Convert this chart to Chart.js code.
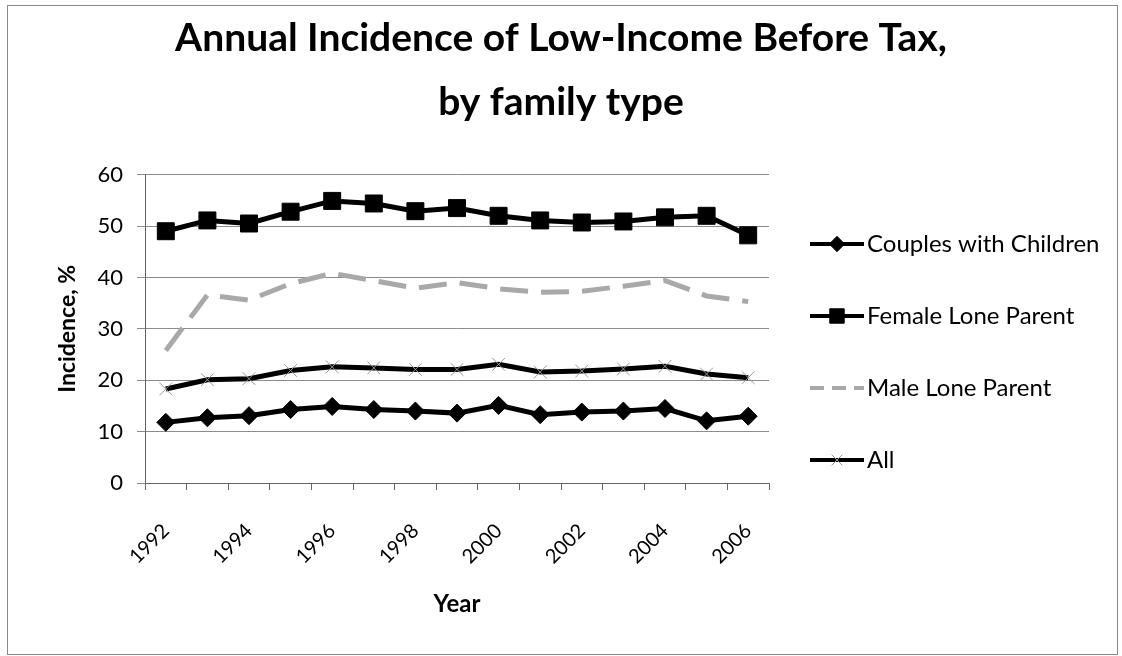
<!DOCTYPE html>
<html>
<head>
<meta charset="utf-8">
<title>Annual Incidence of Low-Income Before Tax</title>
<script src="https://cdn.jsdelivr.net/npm/chart.js@4.4.1/dist/chart.umd.min.js"></script>
<style>
  html, body { margin: 0; padding: 0; background: #fff; }
  #wrap { width: 1122px; height: 656px; }
</style>
</head>
<body>
<div id="wrap"><canvas id="incidenceChart" width="1122" height="656"></canvas></div>
<script>
// Data
let years = ["1992", "1993", "1994", "1995", "1996", "1997", "1998", "1999", "2000", "2001", "2002", "2003", "2004", "2005", "2006"];
let couplesWithChildren = [11.8, 12.7, 13.1, 14.3, 14.9, 14.3, 14.0, 13.6, 15.1, 13.3, 13.8, 14.0, 14.5, 12.1, 13.0];
let femaleLoneParent = [49.0, 51.1, 50.5, 52.8, 54.9, 54.4, 52.9, 53.5, 52.0, 51.1, 50.7, 50.9, 51.7, 52.0, 48.2];
let maleLoneParent = [25.8, 36.6, 35.6, 38.8, 40.8, 39.4, 37.9, 39.0, 37.8, 37.1, 37.3, 38.3, 39.4, 36.4, 35.3];
let allFamilies = [18.3, 20.1, 20.3, 21.9, 22.6, 22.4, 22.1, 22.1, 23.1, 21.6, 21.8, 22.2, 22.7, 21.2, 20.5];
let yTicks = [0, 10, 20, 30, 40, 50, 60];

const FONT = "Lato, 'DejaVu Sans', sans-serif";

// white background + thin frame round the whole chart
const framePlugin = {
    id: "frame",
    beforeDraw(chart) {
        let ctx = chart.ctx;
        ctx.save();
        ctx.fillStyle = "#fff";
        ctx.fillRect(0, 0, chart.width, chart.height);
        ctx.strokeStyle = "#8a8a8a";
        ctx.lineWidth = 1;
        ctx.strokeRect(7.5, 5.5, chart.width - 12, chart.height - 7);
        ctx.restore();
    }
};

// Excel style legend on the right, one row per dataset
const sideLegend = {
    id: "sideLegend",
    afterDraw(chart) {
        let ctx = chart.ctx;
        let x0 = 810, x1 = 864;
        let rowTop = 244, rowStep = 72;
        ctx.save();
        chart.data.datasets.forEach((ds, i) => {
            let y = rowTop + i * rowStep;
            ctx.strokeStyle = ds.borderColor;
            ctx.lineWidth = 4;
            ctx.setLineDash(ds.borderDash ? [14, 8] : []);
            ctx.beginPath();
            ctx.moveTo(x0, y);
            ctx.lineTo(x1, y);
            ctx.stroke();
            ctx.setLineDash([]);
            if (ds.pointStyle && ds.pointRadius > 0) {
                ctx.fillStyle = ds.pointBackgroundColor;
                ctx.strokeStyle = ds.pointBorderColor;
                ctx.lineWidth = 1;
                Chart.helpers.drawPoint(ctx, {
                    pointStyle: ds.pointStyle,
                    radius: ds.pointRadius * 0.85,
                    borderWidth: 1
                }, (x0 + x1) / 2, y);
            }
            ctx.fillStyle = "#000";
            ctx.font = "24px " + FONT;
            ctx.textAlign = "left";
            ctx.textBaseline = "middle";
            ctx.fillText(ds.label, x1 + 3, y);
        });
        ctx.restore();
    }
};

let ctx = document.getElementById("incidenceChart").getContext("2d");

new Chart(ctx, {
    type: "line",
    data: {
        labels: years,
        datasets: [
            {
                label: "Couples with Children",
                data: couplesWithChildren,
                borderColor: "#000",
                borderWidth: 5,
                pointStyle: "rectRot",
                pointRadius: 9,
                pointBackgroundColor: "#000",
                pointBorderColor: "#000",
                pointBorderWidth: 1,
                tension: 0
            },
            {
                label: "Female Lone Parent",
                data: femaleLoneParent,
                borderColor: "#000",
                borderWidth: 5,
                pointStyle: "rect",
                pointRadius: 12,
                pointBackgroundColor: "#000",
                pointBorderColor: "#000",
                pointBorderWidth: 1,
                tension: 0
            },
            {
                label: "Male Lone Parent",
                data: maleLoneParent,
                borderColor: "#a9a9a9",
                borderWidth: 5,
                borderDash: [28, 13],
                pointRadius: 0,
                tension: 0
            },
            {
                label: "All",
                data: allFamilies,
                borderColor: "#000",
                borderWidth: 5,
                pointStyle: "crossRot",
                pointRadius: 9,
                pointBackgroundColor: "#999",
                pointBorderColor: "#999",
                pointBorderWidth: 1,
                tension: 0
            }
        ]
    },
    options: {
        responsive: false,
        animation: false,
        layout: { padding: { left: 0, right: 0, top: 6, bottom: 37 } },
        plugins: {
            legend: { display: false },
            tooltip: { enabled: false },
            title: {
                display: true,
                text: ["Annual Incidence of Low-Income Before Tax,", "by family type"],
                color: "#000",
                font: { family: FONT, size: 39, weight: "bold", lineHeight: 1.65 },
                padding: { top: 0, bottom: 40 }
            }
        },
        scales: {
            x: {
                offset: true,
                border: { display: true, color: "#666", width: 1 },
                grid: { display: true, drawOnChartArea: false, drawTicks: true, tickLength: 7, color: "#666", offset: true },
                ticks: {
                    autoSkip: false,
                    maxRotation: 45,
                    minRotation: 45,
                    padding: 29,
                    color: "#000",
                    font: { family: FONT, size: 20 },
                    callback: function (val, i) {
                        return i % 2 === 0 ? years[i] : "";
                    }
                },
                title: {
                    display: true,
                    text: "Year",
                    color: "#000",
                    font: { family: FONT, size: 24, weight: "bold" },
                    padding: { top: 0, bottom: 0 }
                },
                afterFit: function (axis) {
                    axis.height = 136;
                }
            },
            y: {
                min: yTicks[0],
                max: yTicks[yTicks.length - 1],
                border: { display: true, color: "#666", width: 1 },
                grid: { color: "#8c8c8c", lineWidth: 1, tickLength: 8 },
                afterBuildTicks: function (axis) {
                    axis.ticks = yTicks.map(v => ({ value: v }));
                },
                ticks: {
                    padding: 14,
                    color: "#000",
                    font: { family: FONT, size: 22 }
                },
                title: {
                    display: true,
                    text: "Incidence, %",
                    color: "#000",
                    font: { family: FONT, size: 23, weight: "bold" },
                    padding: { top: 54, bottom: 0 }
                },
                afterFit: function (axis) {
                    axis.width = 145;
                }
            },
            // empty axis that only keeps room free for the legend on the right
            legendSpace: {
                position: "right",
                display: true,
                min: 0,
                max: 1,
                grid: { display: false },
                border: { display: false },
                ticks: { display: false },
                afterFit: function (axis) {
                    axis.width = 353;
                }
            }
        }
    },
    plugins: [framePlugin, sideLegend]
});
</script>
</body>
</html>
